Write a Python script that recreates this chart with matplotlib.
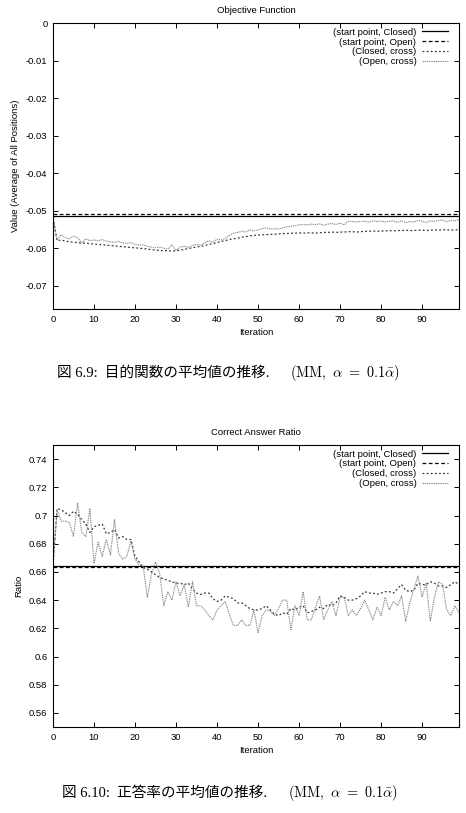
import numpy as np
import matplotlib
matplotlib.use('Agg')
import matplotlib.pyplot as plt
from matplotlib.ticker import FormatStrFormatter, MultipleLocator

plt.rcParams['font.family'] = ['Liberation Sans', 'DejaVu Sans']
plt.rcParams['axes.unicode_minus'] = False
plt.rcParams['mathtext.fontset'] = 'cm'

iterations = list(range(100))
labels = ['(start point, Closed)', '(start point, Open)', '(Closed, cross)', '(Open, cross)']

# objective function (average of all positions)
obj_start_closed = -0.0515
obj_start_open = -0.0509
obj_closed_cross = [
    -0.0519, -0.0580, -0.0578, -0.0581, -0.0583, -0.0584, -0.0585, -0.0587, -0.0586, -0.0588,
    -0.0589, -0.0590, -0.0591, -0.0592, -0.0593, -0.0594, -0.0595, -0.0596, -0.0597, -0.0598,
    -0.0599, -0.0600, -0.0601, -0.0602, -0.0604, -0.0605, -0.0606, -0.0607, -0.0606, -0.0608,
    -0.0607, -0.0605, -0.0603, -0.0601, -0.0599, -0.0597, -0.0595, -0.0593, -0.0590, -0.0588,
    -0.0585, -0.0582, -0.0580, -0.0577, -0.0575, -0.0573, -0.0571, -0.0569, -0.0567, -0.0566,
    -0.0565, -0.0564, -0.0564, -0.0563, -0.0563, -0.0562, -0.0561, -0.0561, -0.0560, -0.0560,
    -0.0559, -0.0560, -0.0559, -0.0559, -0.0560, -0.0559, -0.0558, -0.0558, -0.0557, -0.0558,
    -0.0557, -0.0557, -0.0556, -0.0556, -0.0557, -0.0556, -0.0555, -0.0555, -0.0554, -0.0555,
    -0.0554, -0.0554, -0.0553, -0.0554, -0.0553, -0.0553, -0.0552, -0.0553, -0.0553, -0.0552,
    -0.0552, -0.0553, -0.0552, -0.0551, -0.0552, -0.0551, -0.0551, -0.0552, -0.0551, -0.0551,
]
obj_open_cross = [
    -0.0519, -0.0577, -0.0564, -0.0572, -0.0575, -0.0568, -0.0572, -0.0586, -0.0575, -0.0580,
    -0.0578, -0.0580, -0.0577, -0.0581, -0.0583, -0.0584, -0.0582, -0.0586, -0.0587, -0.0585,
    -0.0590, -0.0592, -0.0591, -0.0595, -0.0597, -0.0599, -0.0597, -0.0600, -0.0602, -0.0591,
    -0.0606, -0.0597, -0.0595, -0.0598, -0.0593, -0.0590, -0.0592, -0.0586, -0.0580, -0.0584,
    -0.0576, -0.0578, -0.0574, -0.0566, -0.0560, -0.0558, -0.0555, -0.0557, -0.0551, -0.0554,
    -0.0551, -0.0548, -0.0546, -0.0549, -0.0548, -0.0549, -0.0546, -0.0543, -0.0542, -0.0540,
    -0.0538, -0.0537, -0.0538, -0.0536, -0.0537, -0.0535, -0.0539, -0.0536, -0.0534, -0.0537,
    -0.0533, -0.0538, -0.0528, -0.0529, -0.0530, -0.0529, -0.0528, -0.0531, -0.0527, -0.0529,
    -0.0528, -0.0530, -0.0528, -0.0527, -0.0531, -0.0527, -0.0532, -0.0529, -0.0530, -0.0526,
    -0.0528, -0.0532, -0.0527, -0.0529, -0.0526, -0.0525, -0.0530, -0.0526, -0.0527, -0.0524,
]

# correct answer ratio
ratio_start_closed = 0.6645
ratio_start_open = 0.6638
ratio_closed_cross = [
    0.665, 0.705, 0.704, 0.702, 0.700, 0.703, 0.701, 0.697, 0.694, 0.688,
    0.692, 0.693, 0.694, 0.687, 0.688, 0.690, 0.684, 0.685, 0.683, 0.683,
    0.671, 0.667, 0.663, 0.662, 0.660, 0.658, 0.656, 0.655, 0.654, 0.653,
    0.652, 0.652, 0.651, 0.652, 0.648, 0.645, 0.644, 0.645, 0.645, 0.641,
    0.639, 0.640, 0.643, 0.642, 0.641, 0.638, 0.638, 0.636, 0.634, 0.633,
    0.633, 0.634, 0.636, 0.633, 0.630, 0.629, 0.631, 0.630, 0.634, 0.633,
    0.635, 0.636, 0.631, 0.632, 0.633, 0.635, 0.634, 0.637, 0.636, 0.638,
    0.643, 0.642, 0.640, 0.640, 0.641, 0.643, 0.646, 0.645, 0.645, 0.644,
    0.645, 0.646, 0.646, 0.645, 0.648, 0.651, 0.647, 0.646, 0.647, 0.652,
    0.651, 0.651, 0.653, 0.652, 0.650, 0.650, 0.649, 0.651, 0.653, 0.651,
]
ratio_open_cross = [
    0.665, 0.704, 0.696, 0.696, 0.695, 0.685, 0.709, 0.688, 0.685, 0.705,
    0.666, 0.681, 0.671, 0.683, 0.672, 0.697, 0.673, 0.669, 0.671, 0.682,
    0.669, 0.665, 0.664, 0.642, 0.658, 0.667, 0.659, 0.636, 0.646, 0.640,
    0.653, 0.643, 0.651, 0.635, 0.653, 0.636, 0.636, 0.633, 0.629, 0.626,
    0.633, 0.636, 0.639, 0.630, 0.622, 0.622, 0.626, 0.622, 0.622, 0.633,
    0.617, 0.629, 0.633, 0.632, 0.629, 0.634, 0.640, 0.640, 0.619, 0.636,
    0.629, 0.646, 0.626, 0.626, 0.635, 0.643, 0.626, 0.633, 0.639, 0.629,
    0.642, 0.642, 0.629, 0.633, 0.629, 0.634, 0.640, 0.633, 0.626, 0.635,
    0.629, 0.642, 0.633, 0.639, 0.636, 0.643, 0.625, 0.638, 0.648, 0.657,
    0.642, 0.652, 0.625, 0.642, 0.653, 0.651, 0.633, 0.629, 0.636, 0.631,
]

styles = [
    dict(color='black', lw=0.9, linestyle='-'),
    dict(color='black', lw=0.9, linestyle=(0, (3, 2))),
    dict(color='#383838', lw=0.9, linestyle=(0, (1.5, 1.8))),
    dict(color='#8c8c8c', lw=0.8, linestyle=(0, (1.2, 0.8))),
]

W, H = 466, 813
fig = plt.figure(figsize=(W / 100, H / 100), dpi=100)


def make_axes(left, top, right, bottom):
    return fig.add_axes([left / W, 1 - bottom / H, (right - left) / W, (bottom - top) / H])


def draw(ax, series, title, ylabel, ylim, ystep):
    n = len(iterations)
    for y, lab, st in zip(series, labels, styles):
        if np.isscalar(y):
            y = [y] * n
        ax.plot(iterations, y, label=lab, **st)
    ax.set_xlim(0, 99)
    ax.set_ylim(*ylim)
    ax.xaxis.set_major_locator(MultipleLocator(10))
    ax.yaxis.set_major_locator(MultipleLocator(ystep))
    ax.yaxis.set_major_formatter(FormatStrFormatter('%g'))
    ax.tick_params(direction='in', length=3.5, width=0.7, top=True, right=True,
                   labelsize=6.8, pad=4)
    for s in ax.spines.values():
        s.set_linewidth(0.8)
    ax.set_title(title, fontsize=6.8, pad=7)
    ax.set_xlabel('Iteration', fontsize=6.8, labelpad=3)
    ax.set_ylabel(ylabel, fontsize=6.8, labelpad=4)
    ax.legend(loc='upper right', bbox_to_anchor=(0.973, 0.984), frameon=False,
              markerfirst=False, fontsize=6.8, borderpad=0, borderaxespad=0,
              handlelength=2.75, handletextpad=0.6, labelspacing=0.1)


ax1 = make_axes(53, 23, 459, 309)
draw(ax1, [obj_start_closed, obj_start_open, obj_closed_cross, obj_open_cross],
     'Objective Function', 'Value (Average of All Positions)', (-0.0762, 0), 0.01)

ax2 = make_axes(53, 445, 459, 727)
draw(ax2, [ratio_start_closed, ratio_start_open, ratio_closed_cross, ratio_open_cross],
     'Correct Answer Ratio', 'Ratio', (0.55, 0.75), 0.02)

cap_font = ['Liberation Serif', 'Noto Sans CJK JP']
tail = r'$(\mathrm{MM},\ \alpha\,\,=\,\,0.1\bar{\alpha})$'
fig.text(57 / W, 1 - 373 / H, '図 6.9:  目的関数の平均値の推移.', fontsize=10.5,
         family=cap_font, ha='left', va='center')
fig.text(290 / W, 1 - 373 / H, tail, fontsize=10.3, ha='left', va='center')
fig.text(62 / W, 1 - 793 / H, '図 6.10:  正答率の平均値の推移.', fontsize=10.5,
         family=cap_font, ha='left', va='center')
fig.text(288 / W, 1 - 793 / H, tail, fontsize=10.3, ha='left', va='center')

fig.savefig('out.png', dpi=100)
